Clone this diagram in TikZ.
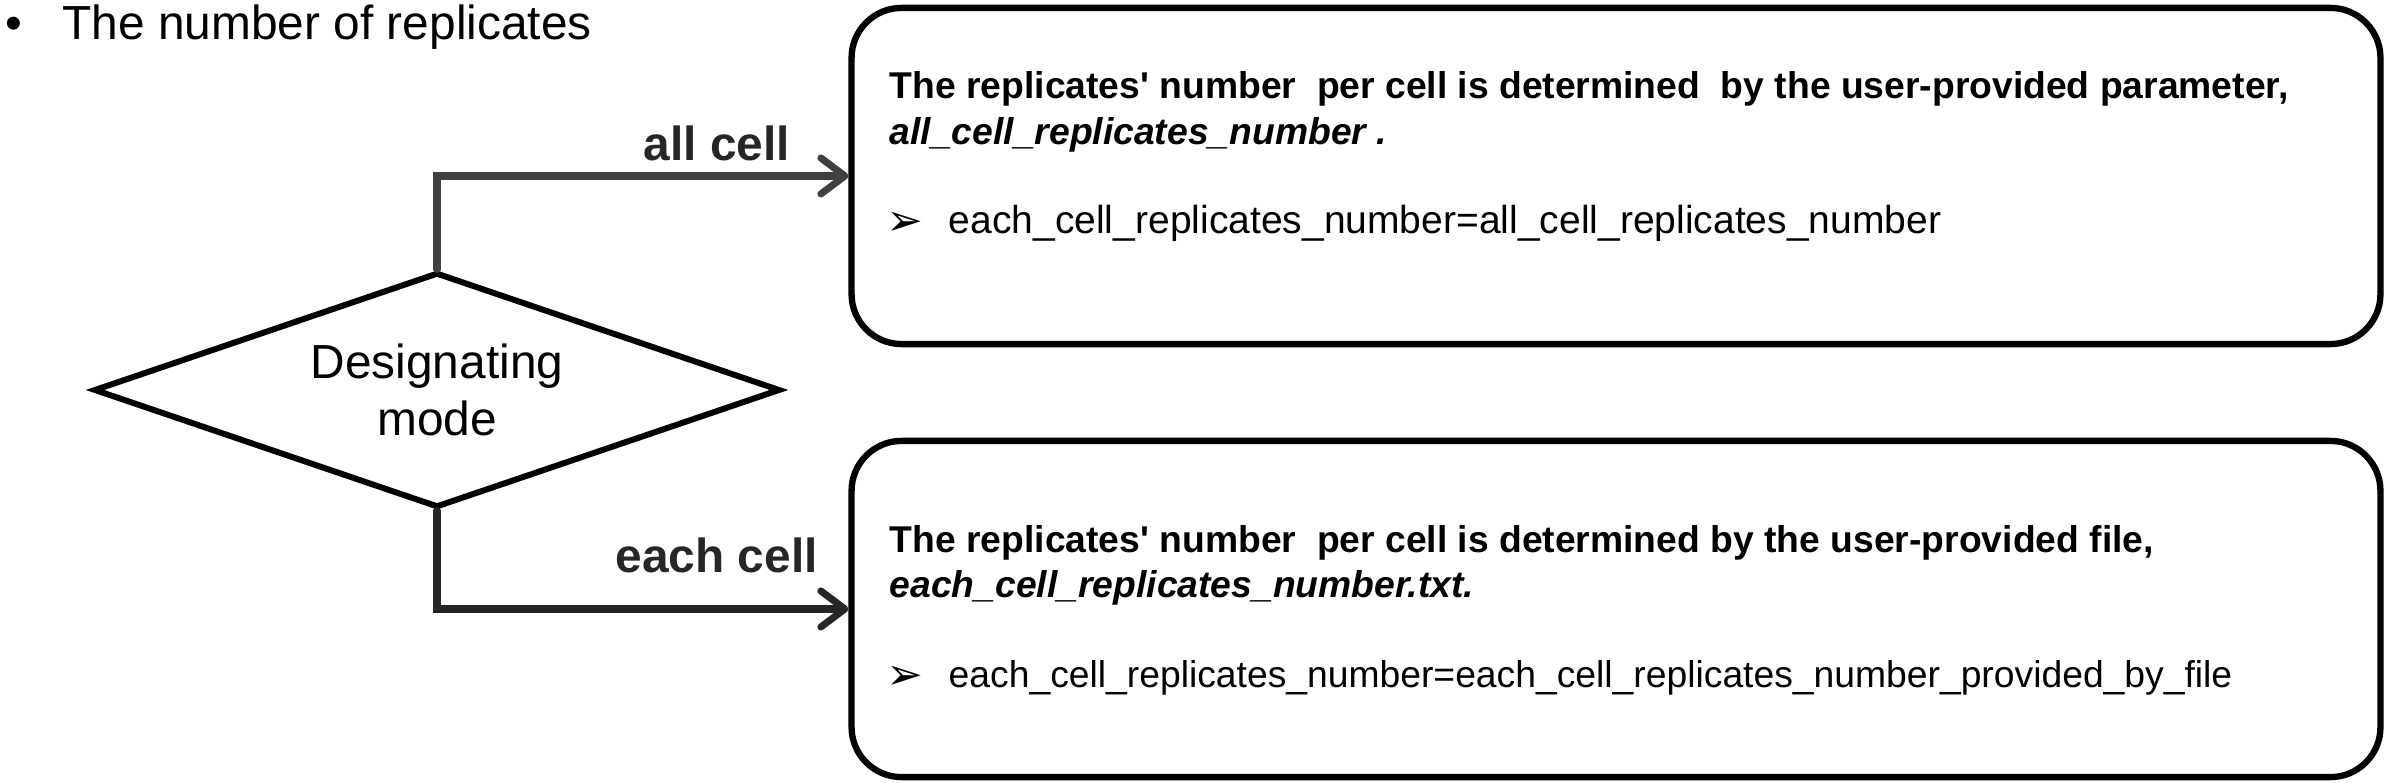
\documentclass[tikz,border=0pt]{standalone}
\usepackage{fontspec}
\setmainfont{Liberation Sans}
\newfontfamily\dejavu{DejaVu Sans}
\usetikzlibrary{shapes.geometric, arrows.meta}

\tikzset{
	infobox/.style={draw, line width=1.8pt, rounded corners=0.5cm, minimum width=15.28cm, minimum height=3.36cm, inner sep=0pt},
	choice/.style={diamond, draw, line width=1.7pt, aspect=2.9, minimum width=6.86cm, minimum height=2.35cm, inner sep=0pt, align=center, font=\fontsize{13.6}{16.2}\selectfont},
	flow/.style={line width=2pt, line cap=round, line join=miter, -{Straight Barb[length=0.24cm, width=0.36cm, round]}},
	flowlabel/.style={anchor=base, inner sep=0pt, text=black!85, font=\fontsize{13.6}{16}\selectfont\bfseries},
	headtext/.style={anchor=base west, inner sep=0pt, font=\fontsize{10.6}{13}\selectfont\bfseries},
	paramtext/.style={anchor=base west, inner sep=0pt, font=\fontsize{10.6}{13}\selectfont\bfseries\itshape},
	marktext/.style={anchor=base west, inner sep=0pt, font=\fontsize{12.5}{14}\selectfont\dejavu},
	ruletext/.style={anchor=base west, inner sep=0pt}
}

\begin{document}
\begin{tikzpicture}[x=0.01cm, y=-0.01cm]

	\useasboundingbox (0,0) rectangle (2385,783);

	\node (dot) [anchor=base west, inner sep=0pt, font=\fontsize{13.6}{16}\selectfont] at (5,40) {•};
	\node (title) [anchor=base west, inner sep=0pt, font=\fontsize{13.6}{16}\selectfont] at (62,40) {The number of replicates};

	\node (mode) [choice] at (437,390) {Designating\\mode};

	\node (allbox) [infobox] at (1616,176) {};
	\node (eachbox) [infobox] at (1616,609) {};

	\node (allhead) [headtext] at (889,99) {The replicates\textquotesingle{} number\ \ per cell is determined\ \ by the user-provided parameter,};
	\node (allparam) [paramtext] at (889,145) {all\_cell\_replicates\_number .};
	\node (allmark) [marktext] at (886,236) {➢};
	\node (allrule) [ruletext, font=\fontsize{11.1}{13}\selectfont] at (948,234) {each\_cell\_replicates\_number=all\_cell\_replicates\_number};

	\node (eachhead) [headtext] at (889,553) {The replicates\textquotesingle{} number\ \ per cell is determined by the user-provided file,};
	\node (eachparam) [paramtext] at (889,598) {each\_cell\_replicates\_number.txt.};
	\node (eachmark) [marktext] at (886,690) {➢};
	\node (eachrule) [ruletext, font=\fontsize{10.6}{13}\selectfont] at (948,688) {each\_cell\_replicates\_number=each\_cell\_replicates\_number\_provided\_by\_file};

	\draw[flow, draw=black!75] (mode.north) |- node[flowlabel, pos=0.84, yshift=0.15cm] {all cell} (allbox.west);
	\draw[flow, draw=black!85] (mode.south) |- node[flowlabel, pos=0.84, yshift=0.36cm] {each cell} (eachbox.west);

\end{tikzpicture}
\end{document}
